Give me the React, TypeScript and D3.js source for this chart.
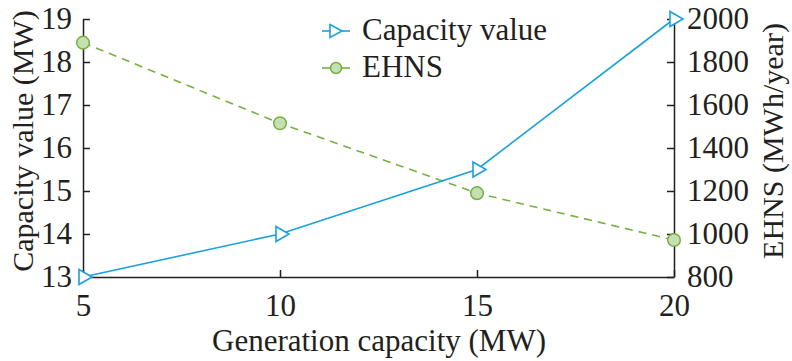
import { useEffect, useRef } from "react";
import * as d3 from "d3";

const generation = [5, 10, 15, 20];
const capacityValue = [13, 14, 15.5, 19];
const ehns = [1890, 1515, 1190, 972];
const xTicks = [5, 10, 15, 20];
const leftTicks = [13, 14, 15, 16, 17, 18, 19];
const rightTicks = [800, 1000, 1200, 1400, 1600, 1800, 2000];

const BLUE = "#1ba1dc";
const GREEN = "#76b043";
const GREEN_FILL = "#c6e0b4";
const INK = "#231f20";
const FONT = "Liberation Serif, Times New Roman, serif";

const App = () => {
  const svgRef = useRef<SVGSVGElement | null>(null);

  useEffect(() => {
    if (!svgRef.current) return;
    const width = 792;
    const height = 361;
    const margin = { top: 19, right: 118, bottom: 84, left: 83 };
    const innerWidth = width - margin.left - margin.right;
    const innerHeight = height - margin.top - margin.bottom;

    const svg = d3.select(svgRef.current);
    svg.selectAll("*").remove();

    const g = svg
      .append("g")
      .attr("transform", `translate(${margin.left},${margin.top})`);

    const x = d3.scaleLinear().domain([5, 20]).range([0, innerWidth]);
    const yL = d3.scaleLinear().domain([13, 19]).range([innerHeight, 0]);
    const yR = d3.scaleLinear().domain([800, 2000]).range([innerHeight, 0]);

    // axes, ticks pointing inward
    const styleAxis = (sel: any) => {
      sel.attr("font-family", FONT).attr("font-size", 31);
      sel.select(".domain").attr("stroke", INK).attr("stroke-width", 1.5);
      sel.selectAll(".tick line").attr("stroke", INK).attr("stroke-width", 1.5);
      sel.selectAll(".tick text").attr("fill", INK);
    };
    const fmt = d3.format("d");

    g.append("g")
      .attr("transform", `translate(0,${innerHeight})`)
      .call(
        d3.axisBottom(x).tickValues(xTicks).tickFormat(fmt as any)
          .tickSize(-7).tickSizeOuter(0).tickPadding(17)
      )
      .call(styleAxis);

    g.append("g")
      .call(
        d3.axisLeft(yL).tickValues(leftTicks).tickFormat(fmt as any)
          .tickSize(-7).tickSizeOuter(0).tickPadding(11)
      )
      .call(styleAxis);

    g.append("g")
      .attr("transform", `translate(${innerWidth},0)`)
      .call(
        d3.axisRight(yR).tickValues(rightTicks).tickFormat(fmt as any)
          .tickSize(-7).tickSizeOuter(0).tickPadding(13)
      )
      .call(styleAxis);

    // EHNS, dashed, right axis
    const ehnsData = generation.map((v, i) => [v, ehns[i]] as [number, number]);
    g.append("path")
      .datum(ehnsData)
      .attr("fill", "none")
      .attr("stroke", GREEN)
      .attr("stroke-width", 1.6)
      .attr("stroke-dasharray", "8,6")
      .attr("d", d3.line<[number, number]>().x((d) => x(d[0])).y((d) => yR(d[1])));

    g.selectAll(".ehns-pt")
      .data(ehnsData)
      .join("circle")
      .attr("cx", (d) => x(d[0]))
      .attr("cy", (d) => yR(d[1]))
      .attr("r", 6.3)
      .attr("fill", GREEN_FILL)
      .attr("stroke", GREEN)
      .attr("stroke-width", 1.5);

    // Capacity value, left axis
    const capData = generation.map((v, i) => [v, capacityValue[i]] as [number, number]);
    g.append("path")
      .datum(capData)
      .attr("fill", "none")
      .attr("stroke", BLUE)
      .attr("stroke-width", 1.6)
      .attr("d", d3.line<[number, number]>().x((d) => x(d[0])).y((d) => yL(d[1])));

    const tri = "M-4,-7.5L9,0L-4,7.5Z";
    g.selectAll(".cap-pt")
      .data(capData)
      .join("path")
      .attr("transform", (d) => `translate(${x(d[0])},${yL(d[1])})`)
      .attr("d", tri)
      .attr("fill", "#ffffff")
      .attr("stroke", BLUE)
      .attr("stroke-width", 1.6);

    // axis titles
    svg
      .append("text")
      .attr("transform", `translate(33,141) rotate(-90)`)
      .attr("text-anchor", "middle")
      .attr("font-family", FONT)
      .attr("font-size", 30)
      .attr("fill", INK)
      .text("Capacity value (MW)");

    svg
      .append("text")
      .attr("transform", `translate(783,141) rotate(-90)`)
      .attr("text-anchor", "middle")
      .attr("font-family", FONT)
      .attr("font-size", 30)
      .attr("fill", INK)
      .text("EHNS (MWh/year)");

    svg
      .append("text")
      .attr("x", 379)
      .attr("y", 351)
      .attr("text-anchor", "middle")
      .attr("font-family", FONT)
      .attr("font-size", 31)
      .attr("fill", INK)
      .text("Generation capacity (MW)");

    // legend
    const legend = svg.append("g").attr("transform", `translate(322,31)`);
    const items = [
      { label: "Capacity value", color: BLUE, marker: "tri" },
      { label: "EHNS", color: GREEN, marker: "circle" },
    ];
    items.forEach((it, i) => {
      const row = legend.append("g").attr("transform", `translate(0,${i * 37})`);
      row
        .append("line")
        .attr("x1", 0)
        .attr("x2", 28)
        .attr("stroke", it.color)
        .attr("stroke-width", 1.6);
      if (it.marker === "tri") {
        row
          .append("path")
          .attr("transform", "translate(12,0)")
          .attr("d", "M-4,-6.5L8,0L-4,6.5Z")
          .attr("fill", "#ffffff")
          .attr("stroke", BLUE)
          .attr("stroke-width", 1.6);
      } else {
        row
          .append("circle")
          .attr("cx", 14)
          .attr("r", 5.5)
          .attr("fill", GREEN_FILL)
          .attr("stroke", GREEN)
          .attr("stroke-width", 1.5);
      }
      row
        .append("text")
        .attr("x", 40)
        .attr("y", 9)
        .attr("font-family", FONT)
        .attr("font-size", 31)
        .attr("fill", INK)
        .text(it.label);
    });
  }, []);

  return (
    <svg
      ref={svgRef}
      width={792}
      height={361}
      style={{ position: "absolute", left: 0, top: 0, background: "#fff" }}
    />
  );
};

export default App;
